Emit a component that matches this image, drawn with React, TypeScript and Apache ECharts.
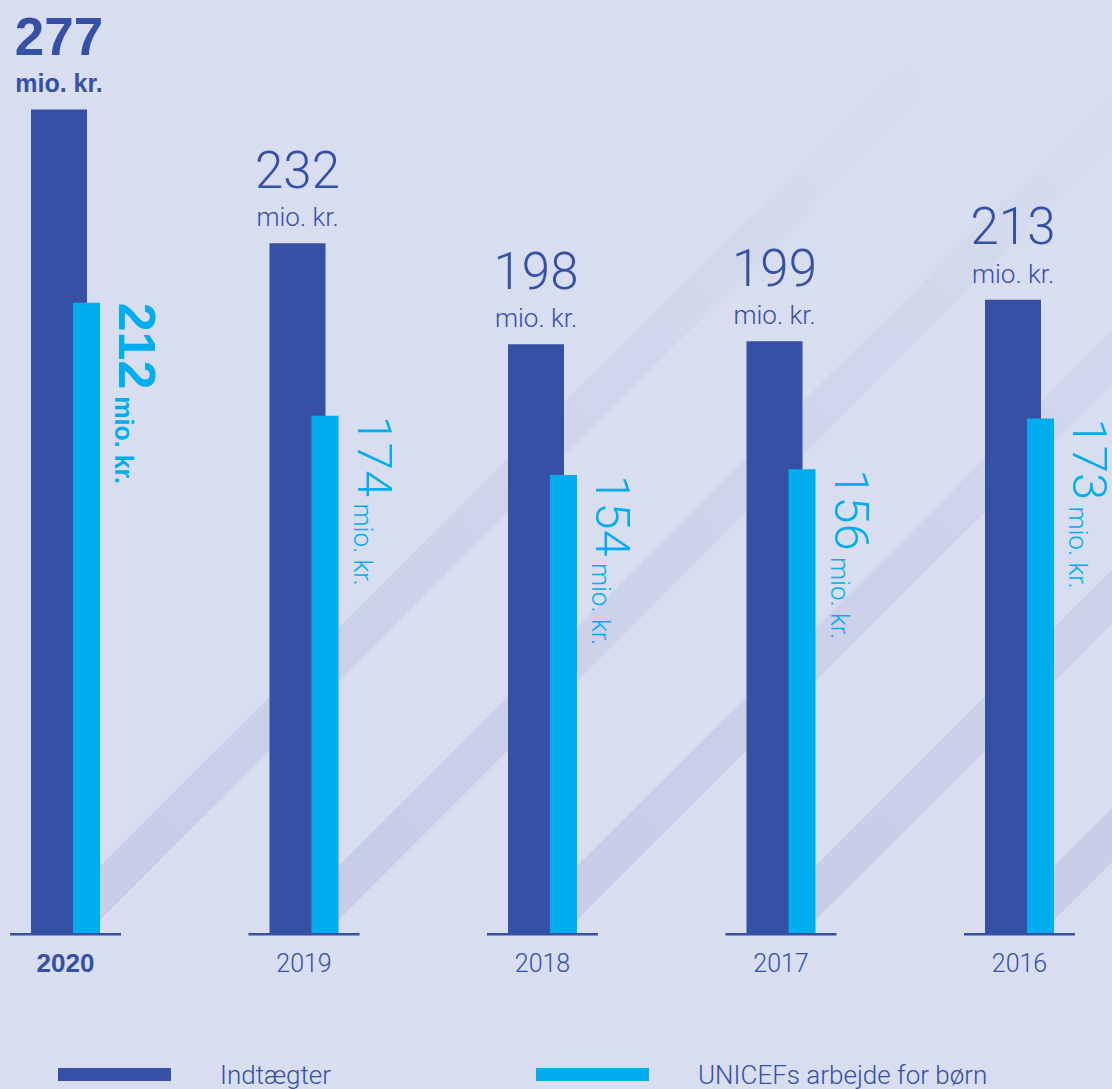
import React, { useEffect, useRef } from 'react';
import * as echarts from 'echarts';

const years = ['2020', '2019', '2018', '2017', '2016'];
const income = [277, 232, 198, 199, 213];
const forChildren = [212, 174, 154, 156, 173];
const seriesNames = ['Indtægter', 'UNICEFs arbejde for børn'];
const unitLabel = 'mio. kr.';

const BG = '#d8ddef';
const DARK = '#3650a5';
const CYAN = '#00aeef';
const LIGHT_FONT = 'Roboto';
const BOLD_FONT = 'Liberation Sans';

export default function App() {
  const ref = useRef<HTMLDivElement>(null);
  useEffect(() => {
    const chart = echarts.init(ref.current as HTMLDivElement, null, { renderer: 'svg' });
    const catData = years.map((y) => [y, 0]);
    const legendText = {
      fontFamily: LIGHT_FONT,
      fontWeight: 300,
      fontSize: 26,
      lineHeight: 30,
      color: DARK,
      padding: [0, 0, 0, 44],
    };
    const option: any = {
      animation: false,
      backgroundColor: BG,
      grid: { left: 65.5, right: 92.5, top: 41, bottom: 156 },
      legend: [
        {
          data: [seriesNames[0]], left: 58, top: 1059.5, padding: 0, itemWidth: 113, itemHeight: 13,
          icon: 'rect', selectedMode: false, textStyle: legendText,
        },
        {
          data: [seriesNames[1]], left: 536, top: 1059.5, padding: 0, itemWidth: 113, itemHeight: 13,
          icon: 'rect', selectedMode: false, textStyle: legendText,
        },
      ],
      xAxis: {
        type: 'category',
        data: years,
        boundaryGap: false,
        axisLine: { show: false },
        axisTick: { show: false },
        splitLine: { show: false },
        axisLabel: {
          interval: 0,
          margin: 17,
          formatter: (v: string, i: number) => (i === 0 ? `{b|${v}}` : `{n|${v}}`),
          rich: {
            b: { fontFamily: BOLD_FONT, fontWeight: 'bold', fontSize: 26, lineHeight: 26, color: DARK },
            n: { fontFamily: LIGHT_FONT, fontWeight: 300, fontSize: 25, lineHeight: 26, color: DARK },
          },
        },
      },
      yAxis: { type: 'value', min: 0, max: 300, show: false, splitLine: { show: false } },
      series: [
        {
          type: 'custom',
          name: 'stripes',
          z: 1,
          silent: true,
          clip: false,
          data: catData,
          renderItem: (params: any, api: any) => {
            const p = api.coord([api.value(0), 0]);
            const cr = p[0] + 34.5;
            const y0 = p[1];
            const L = 820;
            return {
              type: 'polygon',
              silent: true,
              shape: {
                points: [
                  [cr, y0 - 13],
                  [cr, y0 - 67],
                  [cr + L, y0 - 67 - L],
                  [cr + L, y0 - 13 - L],
                ],
              },
              style: {
                fill: new echarts.graphic.LinearGradient(0, 1, 1, 0, [
                  { offset: 0, color: 'rgba(176,183,221,0.42)' },
                  { offset: 0.45, color: 'rgba(176,183,221,0.26)' },
                  { offset: 1, color: 'rgba(176,183,221,0)' },
                ]),
              },
            };
          },
        },
        {
          type: 'bar',
          name: seriesNames[0],
          data: income,
          barWidth: 56,
          barGap: '-25%',
          z: 2,
          clip: false,
          itemStyle: { color: DARK },
          label: {
            show: true,
            position: 'top',
            distance: 13,
            formatter: (p: any) =>
              p.dataIndex === 0
                ? `{nb|${p.value}}\n{sb|${unitLabel}}`
                : `{n|${p.value}}\n{s|${unitLabel}}`,
            rich: {
              nb: { fontFamily: BOLD_FONT, fontWeight: 'bold', fontSize: 53, lineHeight: 68, color: DARK },
              sb: { fontFamily: BOLD_FONT, fontWeight: 'bold', fontSize: 25, lineHeight: 26, color: DARK },
              n: { fontFamily: LIGHT_FONT, fontWeight: 300, fontSize: 51, lineHeight: 68, color: DARK },
              s: { fontFamily: LIGHT_FONT, fontWeight: 300, fontSize: 26, lineHeight: 26, color: DARK },
            },
          },
        },
        {
          type: 'bar',
          name: seriesNames[1],
          data: forChildren,
          barWidth: 27,
          barGap: '-25%',
          z: 2,
          clip: false,
          itemStyle: { color: CYAN },
          label: {
            show: true,
            position: [38, 0],
            rotate: -90,
            align: 'left',
            verticalAlign: 'bottom',
            textBorderWidth: 0,
            formatter: (p: any) =>
              p.dataIndex === 0
                ? `{nb|${p.value}}{sb| ${unitLabel}}`
                : `{n|${p.value}}{s| ${unitLabel}}`,
            rich: {
              nb: { fontFamily: BOLD_FONT, fontWeight: 'bold', fontSize: 52, lineHeight: 52, verticalAlign: 'bottom', color: CYAN },
              sb: { fontFamily: BOLD_FONT, fontWeight: 'bold', fontSize: 25, lineHeight: 34, verticalAlign: 'bottom', color: CYAN },
              n: { fontFamily: LIGHT_FONT, fontWeight: 300, fontSize: 49, lineHeight: 52, verticalAlign: 'bottom', color: CYAN },
              s: { fontFamily: LIGHT_FONT, fontWeight: 300, fontSize: 26, lineHeight: 34, verticalAlign: 'bottom', color: CYAN },
            },
          },
        },
        {
          type: 'custom',
          name: 'baselines',
          z: 3,
          silent: true,
          clip: false,
          data: catData,
          renderItem: (params: any, api: any) => {
            const p = api.coord([api.value(0), 0]);
            return {
              type: 'line',
              silent: true,
              shape: { x1: p[0] - 55.5, y1: p[1] + 1.2, x2: p[0] + 55.5, y2: p[1] + 1.2 },
              style: { stroke: DARK, lineWidth: 2.5 },
            };
          },
        },
      ],
    };
    chart.setOption(option);
    return () => chart.dispose();
  }, []);
  return (
    <div
      ref={ref}
      style={{ position: 'absolute', left: 0, top: 0, width: 1112, height: 1089 }}
    />
  );
}
